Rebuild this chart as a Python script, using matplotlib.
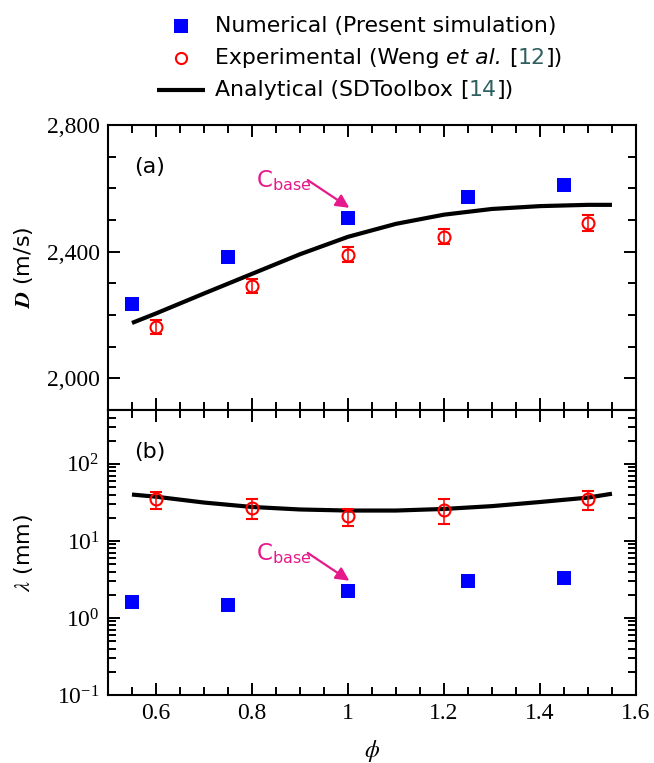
import numpy as np
import matplotlib
matplotlib.use('Agg')
import matplotlib.pyplot as plt
from matplotlib.ticker import MultipleLocator, FuncFormatter, StrMethodFormatter, LogLocator, NullFormatter
from matplotlib.offsetbox import AnchoredOffsetbox, HPacker, VPacker, TextArea, DrawingArea
from matplotlib.lines import Line2D
from matplotlib.transforms import offset_copy

plt.rcParams['font.family'] = 'serif'
plt.rcParams['font.serif'] = ['Liberation Serif', 'DejaVu Serif']
plt.rcParams['mathtext.fontset'] = 'stix'

# numerical results (present simulation)
phi_num = [0.55, 0.75, 1.0, 1.25, 1.45]
D_num = [2234, 2382, 2507, 2574, 2612]
lam_num = [1.60, 1.49, 2.26, 3.05, 3.31]

# experiments, Weng et al.
phi_exp = [0.6, 0.8, 1.0, 1.2, 1.5]
D_exp = [2163, 2293, 2391, 2447, 2491]
D_exp_err = [22, 22, 23, 24, 26]
lam_exp = [34.5, 26.9, 20.9, 25.3, 35.4]
lam_exp_lo = [26.3, 19.5, 15.8, 16.8, 25.5]
lam_exp_hi = [43.0, 34.6, 26.0, 34.6, 45.0]

# SDToolbox CJ speed and cell size
phi_ana = [0.55, 0.6, 0.7, 0.8, 0.9, 1.0, 1.1, 1.2, 1.3, 1.4, 1.5, 1.55]
D_ana = [2175, 2205, 2268, 2330, 2392, 2447, 2488, 2517, 2535, 2544, 2548, 2548]
lam_ana = [40, 37.5, 31.5, 27.6, 25.6, 24.8, 24.8, 26, 28.3, 32, 36.5, 41]

phi_base = 1.0

blue = '#0000ff'
red = '#ff0000'
pink = '#e6198c'
ref_color = '#2f5f5f'

fig = plt.figure(figsize=(6.54, 7.63), dpi=100)
ax1 = fig.add_axes([0.1651, 0.4626, 0.8073, 0.3735])
ax2 = fig.add_axes([0.1651, 0.0891, 0.8073, 0.3735], sharex=ax1)

for ax in (ax1, ax2):
    ax.tick_params(which='both', direction='in', top=True, right=True,
                   width=1.4, labelsize=17, pad=6)
    ax.tick_params(which='major', length=8.4)
    ax.tick_params(which='minor', length=5.5)
    for s in ax.spines.values():
        s.set_linewidth(1.5)

ax1.tick_params(labelbottom=False)
ax2.set_xlim(0.5, 1.6)
ax2.xaxis.set_major_locator(MultipleLocator(0.2))
ax2.xaxis.set_minor_locator(MultipleLocator(0.05))
ax2.xaxis.set_major_formatter(FuncFormatter(lambda v, _: f'{v:g}'))

# (a) detonation speed
ax1.plot(phi_ana, D_ana, color='k', lw=3, zorder=2, solid_capstyle='butt',
         solid_joinstyle='round')
ax1.plot(phi_num, D_num, 's', color=blue, ms=10, mew=0, zorder=4)
ax1.errorbar(phi_exp, D_exp, yerr=D_exp_err, fmt='o', mfc='none', mec=red,
             ecolor=red, ms=8.6, mew=1.5, elinewidth=1.1, capsize=4.3,
             capthick=1.1, zorder=3)
ax1.set_ylim(1900, 2800)
ax1.yaxis.set_major_locator(MultipleLocator(400))
ax1.yaxis.set_minor_locator(MultipleLocator(100))
ax1.yaxis.set_major_formatter(StrMethodFormatter('{x:,.0f}'))
ax1.set_ylabel(r'$\boldsymbol{D}$ (m/s)', family='DejaVu Sans', fontsize=16)
ax1.yaxis.set_label_coords(-0.138, 0.5)
ax1.text(0.079, 0.853, '(a)', transform=ax1.transAxes, ha='center',
         va='center', fontsize=16, family='DejaVu Sans')

# (b) cell size
lam_err = [np.subtract(lam_exp, lam_exp_lo), np.subtract(lam_exp_hi, lam_exp)]
ax2.plot(phi_ana, lam_ana, color='k', lw=3, zorder=2, solid_capstyle='butt',
         solid_joinstyle='round')
ax2.plot(phi_num, lam_num, 's', color=blue, ms=10, mew=0, zorder=4)
ax2.errorbar(phi_exp, lam_exp, yerr=lam_err, fmt='o', mfc='none', mec=red,
             ecolor=red, ms=8.6, mew=1.5, elinewidth=1.1, capsize=4.3,
             capthick=1.1, zorder=3)
ax2.set_yscale('log')
ax2.set_ylim(0.1, 500)
ax2.yaxis.set_major_locator(LogLocator(base=10, numticks=10))
ax2.yaxis.set_minor_locator(LogLocator(base=10, subs=np.arange(2, 10), numticks=20))
ax2.yaxis.set_minor_formatter(NullFormatter())
ax2.set_ylabel(r'$\lambda$ (mm)', family='DejaVu Sans', fontsize=16)
ax2.yaxis.set_label_coords(-0.138, 0.5)
ax2.set_xlabel(r'$\phi$', fontsize=17)
ax2.xaxis.set_label_coords(0.5, -0.15)
ax2.text(0.079, 0.854, '(b)', transform=ax2.transAxes, ha='center',
         va='center', fontsize=16, family='DejaVu Sans')


def mark_base(ax, y):
    tip = offset_copy(ax.transData, fig=fig, x=1.0, y=7.2, units='points')
    ax.annotate('', xy=(phi_base, y), xycoords=tip, xytext=(-30, 20),
                textcoords='offset points',
                arrowprops=dict(arrowstyle='-|>', color=pink, lw=1.6,
                                shrinkA=0, shrinkB=0, mutation_scale=20))
    ax.annotate(r'C$_\mathregular{base}$', xy=(phi_base, y), xycoords=tip,
                xytext=(-67, 15), textcoords='offset points', ha='left',
                va='baseline', color=pink, fontsize=16.5, family='DejaVu Sans')


i_base = phi_num.index(phi_base)
mark_base(ax1, D_num[i_base])
mark_base(ax2, lam_num[i_base])

# legend built from pieces so the reference numbers can be coloured
txt = dict(fontsize=15.8, family='DejaVu Sans', color='k')


def handle_box(artist):
    da = DrawingArea(34.6, 16, 0, 0)
    da.add_artist(artist)
    return da


def cited(before, mid_parts, num):
    inner = HPacker(children=[TextArea('[', textprops=txt),
                              TextArea(num, textprops={**txt, 'color': ref_color}),
                              TextArea('])', textprops=txt)],
                    sep=0, pad=0, align='baseline')
    return HPacker(children=[TextArea(before, textprops=txt)] + mid_parts + [inner],
                   sep=5.0, pad=0, align='baseline')


sq = Line2D([17.3], [8], ls='none', marker='s', ms=9.5, mfc=blue, mec=blue, mew=0)
ci = Line2D([17.3], [8], ls='none', marker='o', ms=8, mfc='none', mec=red, mew=1.5)
ln = Line2D([0, 34.6], [8, 8], color='k', lw=3, solid_capstyle='butt')

rows = [
    (sq, TextArea('Numerical (Present simulation)', textprops=txt)),
    (ci, cited('Experimental (Weng',
               [TextArea('et al.', textprops={**txt, 'style': 'italic'})], '12')),
    (ln, cited('Analytical (SDToolbox', [], '14')),
]
vbox = VPacker(children=[HPacker(children=[handle_box(h), t], sep=7.2, pad=0, align='center')
                         for h, t in rows],
               sep=7.0, pad=0, align='left')
legend_box = AnchoredOffsetbox(loc='upper left', child=vbox, pad=0, borderpad=0,
                               frameon=False, bbox_to_anchor=(157 / 654, 1 - 15 / 763),
                               bbox_transform=fig.transFigure)
fig.add_artist(legend_box)

fig.savefig('out.png', dpi=100)
